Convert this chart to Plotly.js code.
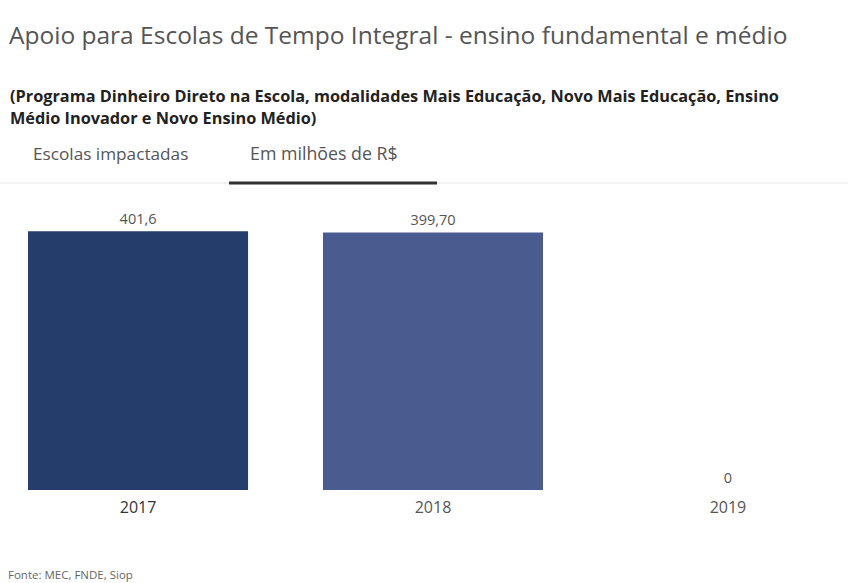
<!DOCTYPE html>
<html>
<head>
<meta charset="utf-8">
<script src="https://cdn.plot.ly/plotly-3.0.1.min.js"></script>
<style>html,body{margin:0;padding:0;background:#fff;}#chart{width:848px;height:583px;}</style>
</head>
<body>
<div id="chart"></div>
<script>
const years = ['2017', '2018', '2019'];
const values = [401.6, 399.70, 0];
const valueLabels = ['401,6', '399,70', '0'];
const tickColors = ['#333333', '#555555', '#555555'];
const barColors = ['#253d6b', '#4a5c8f', '#4a5c8f'];

const trace = {
  type: 'bar',
  x: years,
  y: values,
  text: valueLabels,
  textposition: 'outside',
  cliponaxis: false,
  textfont: {family: 'Open Sans', size: 14.5, color: '#555555'},
  marker: {color: barColors},
  hoverinfo: 'none'
};

const font = 'Open Sans';
const layout = {
  width: 848, height: 583,
  margin: {l: 0, r: 0, t: 200, b: 93},
  paper_bgcolor: '#ffffff', plot_bgcolor: '#ffffff',
  showlegend: false,
  bargap: 0.254,
  title: {
    text: 'Apoio para Escolas de Tempo Integral - ensino fundamental e médio',
    x: 9/848, xanchor: 'left', y: 1 - 35/583, yanchor: 'middle',
    font: {family: font, size: 24.5, color: '#555555'}
  },
  xaxis: {
    type: 'category',
    range: [-0.468, 2.407],
    tickmode: 'array',
    tickvals: years,
    ticktext: years.map((y, i) => '<span style="color:' + tickColors[i] + '">' + y + '</span>'),
    tickfont: {family: font, size: 16, color: '#555555'},
    ticklabelstandoff: 6,
    showgrid: false, zeroline: false, showline: false, ticks: ''
  },
  yaxis: {
    range: [0, 450],
    visible: false, showgrid: false, zeroline: false
  },
  annotations: [
    {xref: 'paper', yref: 'paper', x: 8/848, y: (490-96)/290, xanchor: 'left', yanchor: 'middle', align: 'left',
     showarrow: false,
     text: '<b>(Programa Dinheiro Direto na Escola, modalidades Mais Educação, Novo Mais Educação, Ensino</b>',
     font: {family: font, size: 16.3, color: '#222222'}},
    {xref: 'paper', yref: 'paper', x: 8/848, y: (490-118)/290, xanchor: 'left', yanchor: 'middle', align: 'left',
     showarrow: false,
     text: '<b>Médio Inovador e Novo Ensino Médio)</b>',
     font: {family: font, size: 16.3, color: '#222222'}},
    {xref: 'paper', yref: 'paper', x: 31/848, y: (490-153)/290, xanchor: 'left', yanchor: 'middle',
     showarrow: false, text: 'Escolas impactadas', font: {family: font, size: 17.2, color: '#555555'}},
    {xref: 'paper', yref: 'paper', x: 248/848, y: (490-153)/290, xanchor: 'left', yanchor: 'middle',
     showarrow: false, text: 'Em milhões de R$', font: {family: font, size: 17.8, color: '#555555'}},
    {xref: 'paper', yref: 'paper', x: 6/848, y: (490-574)/290, xanchor: 'left', yanchor: 'middle',
     showarrow: false, text: 'Fonte: MEC, FNDE, Siop', font: {family: font, size: 11.5, color: '#666666'}}
  ],
  shapes: [
    {type: 'line', xref: 'paper', yref: 'paper', x0: 0, x1: 1, y0: (490-183)/290, y1: (490-183)/290,
     line: {color: '#e3e3e3', width: 1}},
    {type: 'line', xref: 'paper', yref: 'paper', x0: 229/848, x1: 437/848, y0: (490-183)/290, y1: (490-183)/290,
     line: {color: '#333333', width: 3}}
  ]
};

Plotly.newPlot('chart', [trace], layout, {displayModeBar: false, staticPlot: true});
</script>
</body>
</html>
